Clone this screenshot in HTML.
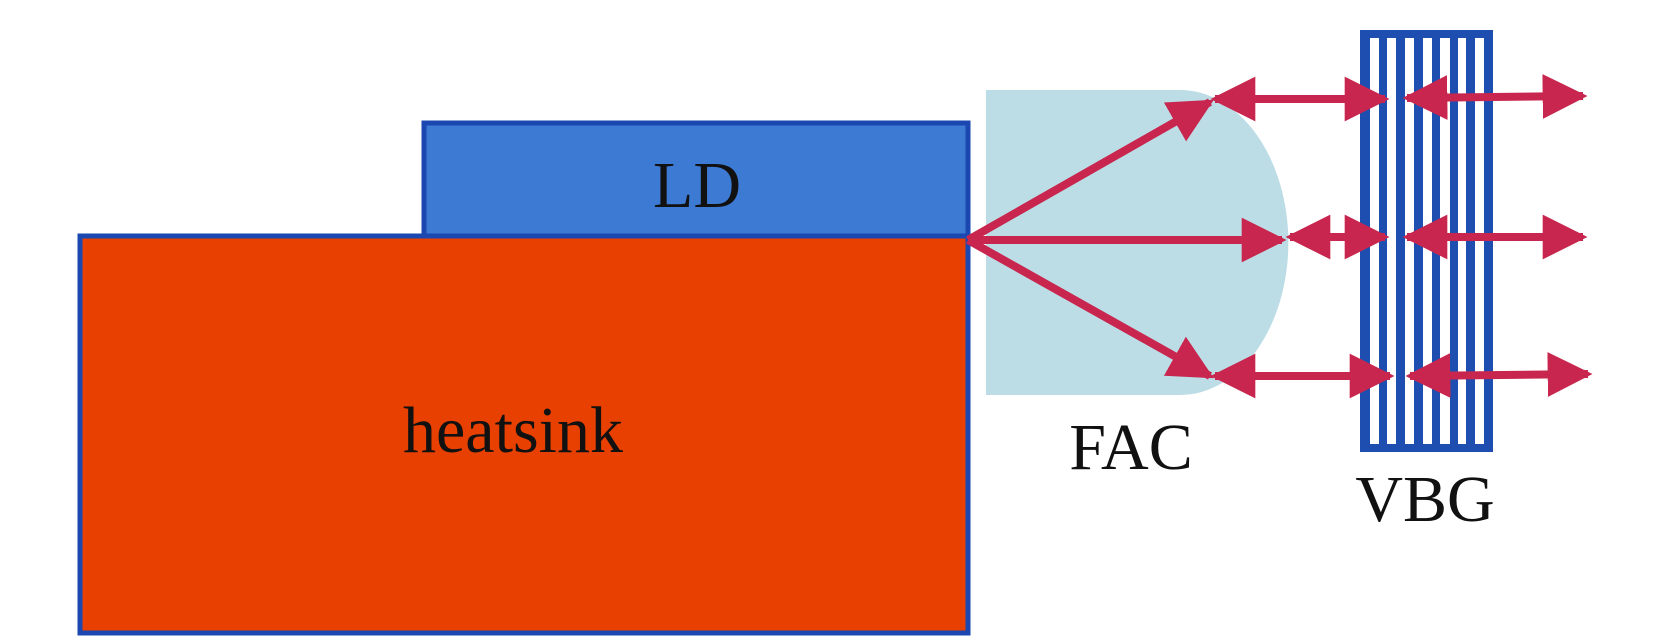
<!DOCTYPE html>
<html><head><meta charset="utf-8"><style>
html,body{margin:0;padding:0;background:#fff;}
svg{display:block;}
text{font-family:"Liberation Serif",serif;fill:#111;}
</style></head><body>
<svg width="1654" height="643" viewBox="0 0 1654 643" xmlns="http://www.w3.org/2000/svg">
<defs>
<marker id="ah" viewBox="0 0 10 10" refX="9" refY="5" markerWidth="5.6" markerHeight="5.6" orient="auto-start-reverse" markerUnits="strokeWidth">
<path d="M0,0 L10,5 L0,10 z" fill="#c8264e"/>
</marker>
</defs>
<rect x="80" y="236" width="888" height="397" fill="#e84000" stroke="#1a48b0" stroke-width="5"/>
<rect x="424" y="123" width="544" height="113" fill="#3d7ad4" stroke="#1a48b0" stroke-width="5"/>
<text x="697" y="207" font-size="66" text-anchor="middle">LD</text>
<text x="513" y="452" font-size="66" text-anchor="middle">heatsink</text>
<path d="M986,90 L1180,90 A108,152 0 0 1 1180,395 L986,395 Z" fill="#bcdde6"/>
<text x="1131" y="469" font-size="66" text-anchor="middle">FAC</text>
<rect x="1360" y="30" width="133" height="422" fill="#1e4fb0"/>
<g fill="#fff">
<rect x="1370" y="38" width="9" height="406"/>
<rect x="1387" y="38" width="9" height="406"/>
<rect x="1405" y="38" width="9" height="406"/>
<rect x="1423" y="38" width="9" height="406"/>
<rect x="1440" y="38" width="10" height="406"/>
<rect x="1458" y="38" width="8" height="406"/>
<rect x="1475" y="38" width="9" height="406"/>
</g>
<text x="1425" y="521" font-size="66" text-anchor="middle">VBG</text>
<g stroke="#c8264e" stroke-width="8" fill="none">
<line x1="968" y1="240" x2="1210" y2="102" marker-end="url(#ah)"/>
<line x1="968" y1="240" x2="1282" y2="240" marker-end="url(#ah)"/>
<line x1="968" y1="240" x2="1210" y2="376" marker-end="url(#ah)"/>
<line x1="1215" y1="99" x2="1360" y2="99" marker-start="url(#ah)"/>
<line x1="1355" y1="99" x2="1385" y2="99" marker-end="url(#ah)"/>
<line x1="1407" y1="98" x2="1583" y2="96" marker-start="url(#ah)" marker-end="url(#ah)"/>
<line x1="1290" y1="237" x2="1385" y2="237" marker-start="url(#ah)" marker-end="url(#ah)"/>
<line x1="1407" y1="237" x2="1583" y2="237" marker-start="url(#ah)" marker-end="url(#ah)"/>
<line x1="1215" y1="376" x2="1360" y2="376" marker-start="url(#ah)"/>
<line x1="1355" y1="376" x2="1390" y2="376" marker-end="url(#ah)"/>
<line x1="1410" y1="376" x2="1588" y2="374" marker-start="url(#ah)" marker-end="url(#ah)"/>
</g>
</svg>
</body></html>
